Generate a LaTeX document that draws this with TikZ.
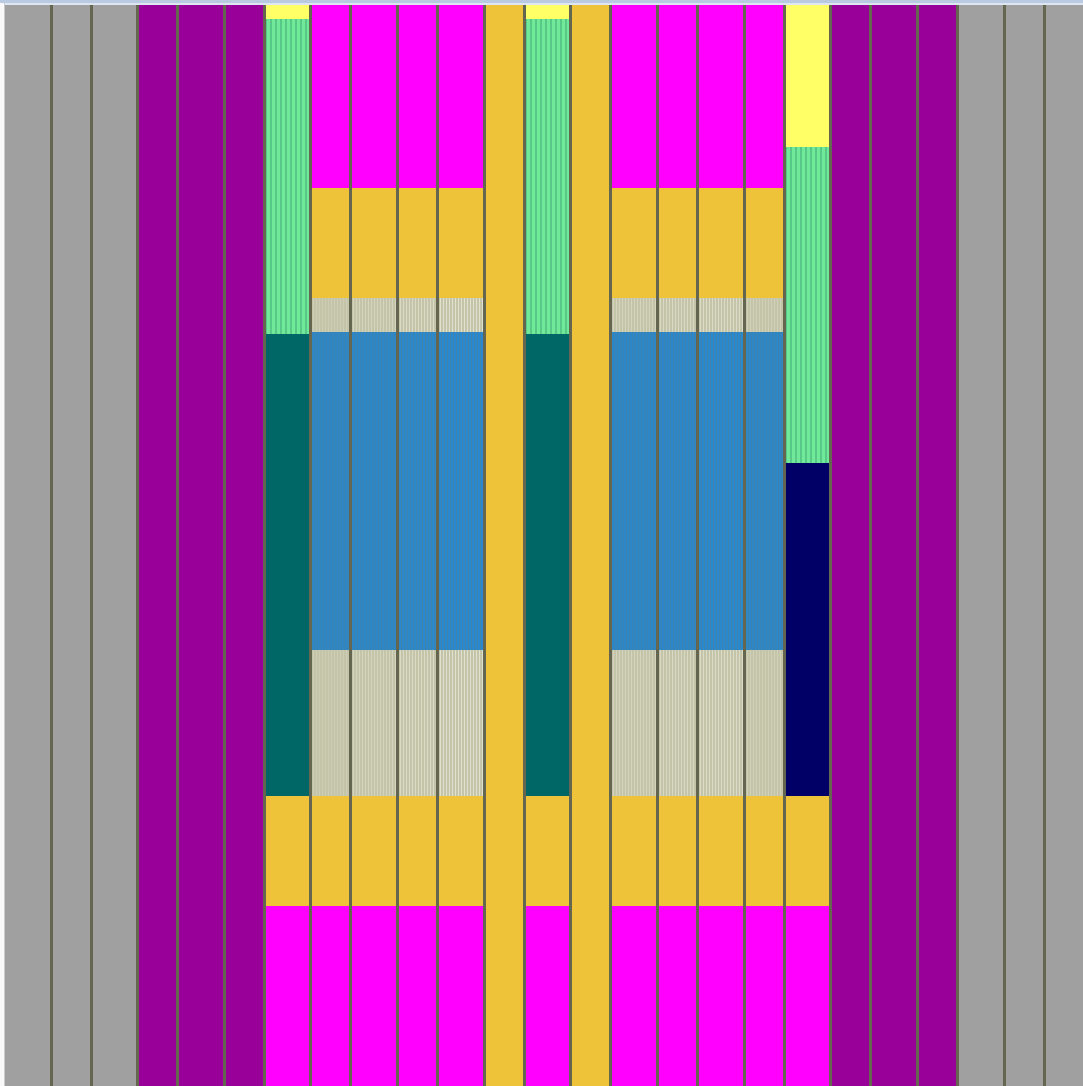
\documentclass[tikz,border=0pt]{standalone}
\definecolor{cgray}{HTML}{A0A0A0}
\definecolor{cpurple}{HTML}{990099}
\definecolor{cmag}{HTML}{FF00FF}
\definecolor{corange}{HTML}{EEC33A}
\definecolor{cyellow}{HTML}{FFFF66}
\definecolor{cgreen}{HTML}{70EA98}
\definecolor{cgreendk}{HTML}{58C888}
\definecolor{cteal}{HTML}{006666}
\definecolor{cblue}{HTML}{3385BD}
\definecolor{cbluelt}{HTML}{1590F0}
\definecolor{cbluedk}{HTML}{5A8090}
\definecolor{cbeige}{HTML}{C4C4A8}
\definecolor{cbeigelt}{HTML}{E4E4D4}
\definecolor{cnavy}{HTML}{000066}
\definecolor{csep}{HTML}{646650}
\definecolor{ctop}{HTML}{BACAE0}
\definecolor{ctoplt}{HTML}{DDE6F2}
\tikzset{
  sepline/.style={draw=csep, line width=3pt},
  greenstripe/.style={draw=cgreendk, line width=1.8pt},
  bluestripe/.style={draw=cbluelt, line width=1.2pt},
  bluedkstripe/.style={draw=cbluedk, line width=0.7pt},
  beigestripe/.style={draw=cbeigelt, line width=0.9pt},
}
\begin{document}
\begin{tikzpicture}[x=1pt,y=-1pt]
\useasboundingbox (0,0) rectangle (1083,1086);
\fill[white] (0,0) rectangle (1083,1086);
% outer gray and purple columns
\fill[cgray] (5,5) rectangle (137,1086);
\fill[cpurple] (137,5) rectangle (264,1086);
\fill[cpurple] (830,5) rectangle (957,1086);
\fill[cgray] (957,5) rectangle (1083,1086);
% column type A (yellow / green / teal): 264-310 and 524-570
\foreach \xa/\xb in {264/310, 524/570}{
  \fill[cyellow] (\xa,5) rectangle (\xb,19);
  \fill[cgreen] (\xa,19) rectangle (\xb,334);
  \foreach \s in {2,7,...,42} \draw[greenstripe] (\xa+\s,19) -- (\xa+\s,334);
  \fill[cteal] (\xa,334) rectangle (\xb,796);
  \fill[corange] (\xa,796) rectangle (\xb,906);
  \fill[cmag] (\xa,906) rectangle (\xb,1086);
}
% full orange columns
\fill[corange] (484,5) rectangle (524,1086);
\fill[corange] (570,5) rectangle (610,1086);
% column type B (fuel): 310-484 and 610-784
\foreach \xa/\xb/\op in {310/350/0.3, 350/397/0.5, 397/437/0.7, 437/484/0.9,
                         610/657/0.5, 657/697/0.65, 697/744/0.75, 744/784/0.4}{
  \fill[cmag] (\xa,5) rectangle (\xb,188);
  \fill[corange] (\xa,188) rectangle (\xb,298);
  \fill[cbeige] (\xa,298) rectangle (\xb,332);
  \fill[cblue] (\xa,332) rectangle (\xb,650);
  \fill[cbeige] (\xa,650) rectangle (\xb,796);
  \foreach \s in {3,6,...,45}{
    \ifdim \s pt<\dimexpr\xb pt-\xa pt\relax
      \draw[bluestripe, draw opacity=0.4*\op] (\xa+\s,332) -- (\xa+\s,650);
      \draw[bluedkstripe, draw opacity=0.4*\op] (\xa+\s+1.5,332) -- (\xa+\s+1.5,650);
      \draw[beigestripe, draw opacity=\op] (\xa+\s,298) -- (\xa+\s,332);
      \draw[beigestripe, draw opacity=\op] (\xa+\s,650) -- (\xa+\s,796);
    \fi
  }
  \fill[corange] (\xa,796) rectangle (\xb,906);
  \fill[cmag] (\xa,906) rectangle (\xb,1086);
}
% column type C: 784-830
\fill[cyellow] (784,5) rectangle (830,147);
\fill[cgreen] (784,147) rectangle (830,463);
\foreach \s in {2,7,...,42} \draw[greenstripe] (784+\s,147) -- (784+\s,463);
\fill[cnavy] (784,463) rectangle (830,796);
\fill[corange] (784,796) rectangle (830,906);
\fill[cmag] (784,906) rectangle (830,1086);
% separators
\foreach \x in {51,91,137,177,224,264,310,350,397,437,484,524,570,610,657,697,744,784,830,870,917,957,1004,1044}
  \draw[sepline] (\x,5) -- (\x,1086);
% window edges
\fill[ctop] (0,0) rectangle (1083,3);
\fill[ctoplt] (0,3) rectangle (1083,5.5);
\fill[white!95!gray] (0,3) rectangle (5,1086);
\draw[gray!40, line width=0.8pt] (4.5,3) -- (4.5,1086);
\end{tikzpicture}
\end{document}
